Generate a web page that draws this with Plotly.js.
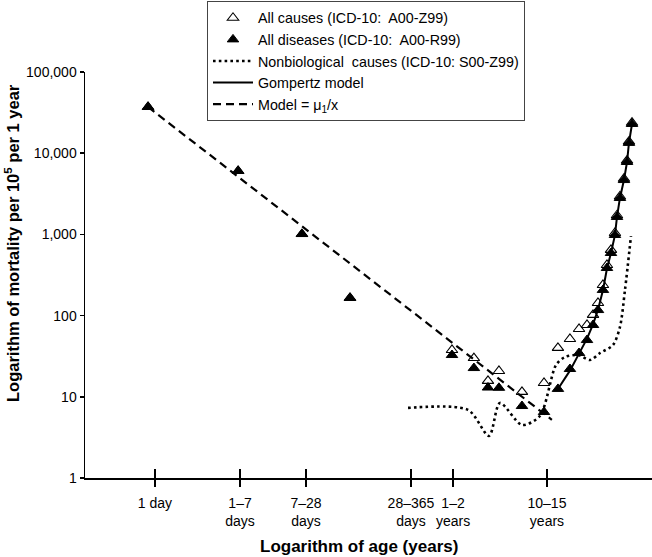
<!DOCTYPE html>
<html>
<head>
<meta charset="utf-8">
<script src="https://cdn.plot.ly/plotly-3.0.1.min.js"></script>
<style>html,body{margin:0;padding:0;background:#fff;}#chart{width:652px;height:557px;}</style>
</head>
<body>
<div id="chart"></div>
<script>
// Age groups (years), as placed on the log age axis
const ageGroups = [0.00157, 0.0120, 0.0507, 0.150, 1.5, 2.46, 3.38, 4.33, 7.28, 11.97, 16.4, 21.5, 26.4, 31.6, 36.2, 40.5, 45.3, 49.6, 54.3, 59.4, 62.2, 66.5, 72.8, 78.0, 81.5, 87.3];
// Mortality per 100,000 per year
const allCauses   = [37100, 6040, 1010, 165, 37.7, 30, 15.7, 20.8, 11.5, 14.8, 40, 51.5, 68.4, 76.6, 102, 143, 238, 420, 645, 1040, 1720, 2930, 4850, 8100, 13900, 23700];
const allDiseases = [37100, 6040, 1010, 165, 32.7, 22.6, 13.0, 12.9, 7.7, 6.5, 12.5, 22, 34.6, 50, 76.6, 117, 207, 386, 590, 984, 1640, 2810, 4670, 7790, 13400, 22900];

const nonbioAge = [0.556, 2.15, 3.46, 4.43, 7.28, 10.9, 15.7, 19.2, 25.8, 33.8, 42.4, 56.8, 66.5, 74.5, 85.3];
const nonbioVal = [7.3, 6.9, 3.3, 8.4, 4.5, 5.8, 24.7, 30.9, 32.7, 28.4, 34.6, 43.4, 72.4, 207, 955];

const gompertzAge = [16.4, 21.5, 26.4, 31.6, 36.2, 40.5, 45.3, 49.6, 54.3, 59.4, 62.2, 66.5, 72.8, 78.0, 81.5, 87.3];
const gompertzVal = [12.5, 21, 34, 52, 78, 118, 205, 380, 590, 980, 1640, 2810, 4670, 7790, 13400, 22900];

const modelAge = [0.00157, 14.3];
const modelVal = [37100, 5.2];

const xTickVals = [0.001837, 0.01253, 0.0556, 0.594, 1.535, 12.8];
const xTickText = ['1 day', '1–7<br>days', '7–28<br>days', '28–365<br>days', '1–2<br>years', '10–15<br>years'];
const yTickVals = [1, 10, 100, 1000, 10000, 100000];
const yTickText = ['1', '10', '100', '1,000', '10,000', '100,000'];

const FONT = 'Liberation Sans, Arial, Helvetica, sans-serif';
const xRange = [-3.422, 2.137];

const traces = [
  {x: nonbioAge, y: nonbioVal, mode: 'lines', name: 'Nonbiological\u00a0 causes (ICD-10: S00-Z99)', legendrank: 3,
   line: {color: '#000', width: 2.6, dash: '2.6px,3.2px', shape: 'spline', smoothing: 0.8}},
  {x: modelAge, y: modelVal, mode: 'lines', name: 'Model = μ<sub>1</sub>/x', legendrank: 5,
   line: {color: '#000', width: 2.2, dash: '8px,5px'}},
  {x: gompertzAge, y: gompertzVal, mode: 'lines', name: 'Gompertz model', legendrank: 4,
   line: {color: '#000', width: 2}},
  {x: ageGroups, y: allCauses, mode: 'markers', name: 'All causes (ICD-10:\u00a0 A00-Z99)', legendrank: 1,
   marker: {symbol: 'triangle-up-open', size: 10, color: '#000', line: {width: 1.1, color: '#000'}}},
  {x: ageGroups, y: allDiseases, mode: 'markers', name: 'All diseases (ICD-10:\u00a0 A00-R99)', legendrank: 2,
   marker: {symbol: 'triangle-up', size: 10, color: '#000', line: {width: 1, color: '#000'}}},
  {x: [ageGroups[0]], y: [allDiseases[0]], xaxis: 'x2', mode: 'markers', showlegend: false, hoverinfo: 'skip',
   marker: {opacity: 0}}
];

const layout = {
  width: 652, height: 557,
  margin: {l: 85, r: 0, t: 72, b: 79},
  paper_bgcolor: '#fff', plot_bgcolor: '#fff',
  font: {family: FONT, color: '#000', size: 14},
  showlegend: true,
  legend: {x: (207 - 85) / 567, y: 1.1749, xanchor: 'left', yanchor: 'top', bgcolor: '#fff',
           bordercolor: '#444', borderwidth: 1, font: {size: 14.3, family: FONT, color: '#000'},
           traceorder: 'normal', itemwidth: 40, entrywidth: 329, entrywidthmode: 'pixels'},
  xaxis: {type: 'log', range: xRange, showgrid: false, zeroline: false,
          showline: true, linecolor: '#000', linewidth: 2,
          ticks: 'outside', ticklen: 7, tickwidth: 2, tickcolor: '#000', tickangle: 0,
          tickvals: xTickVals, ticktext: xTickText, tickfont: {size: 14, color: '#000'},
          ticklabelstandoff: 4},
  xaxis2: {type: 'log', range: xRange, overlaying: 'x', anchor: 'y', side: 'bottom',
           showgrid: false, zeroline: false, showline: false,
           ticks: 'inside', ticklen: 9, tickwidth: 2, tickcolor: '#000',
           tickvals: xTickVals, showticklabels: false},
  yaxis: {type: 'log', range: [0, 5], showgrid: false, zeroline: false,
          showline: true, linecolor: '#000', linewidth: 1.5,
          ticks: 'outside', ticklen: 4, tickwidth: 1.5, tickcolor: '#000',
          tickvals: yTickVals, ticktext: yTickText, tickfont: {size: 14, color: '#000'}},
  annotations: [
    {text: '<b>Logarithm of age (years)</b>', xref: 'paper', yref: 'paper',
     x: (359 - 85) / 567, y: (478 - 546) / 406, xanchor: 'center', yanchor: 'middle',
     showarrow: false, font: {size: 17, family: FONT, color: '#000'}},
    {text: '<b>Logarithm of mortality per 10<sup>5</sup> per 1 year</b>', xref: 'paper', yref: 'paper',
     x: (12 - 85) / 567, y: (478 - 243) / 406, xanchor: 'center', yanchor: 'middle', textangle: -90,
     showarrow: false, font: {size: 16.5, family: FONT, color: '#000'}}
  ]
};

Plotly.newPlot('chart', traces, layout, {displayModeBar: false, staticPlot: true});
</script>
</body>
</html>
